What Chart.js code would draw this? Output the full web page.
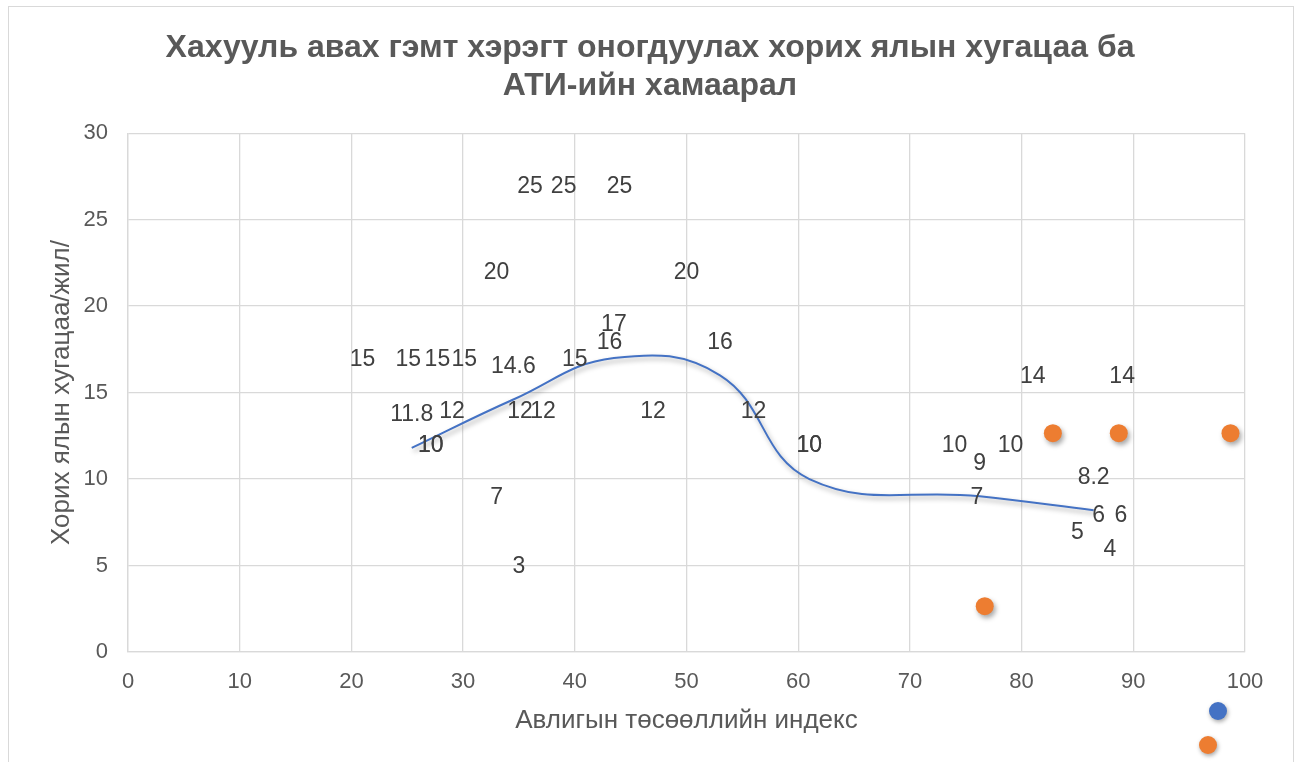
<!DOCTYPE html>
<html>
<head>
<meta charset="utf-8">
<title>Хахууль авах гэмт хэрэг - АТИ</title>
<script src="https://cdn.jsdelivr.net/npm/chart.js@4.4.1/dist/chart.umd.min.js"></script>
<style>
    body { margin: 0; background: #fff; }
    .chart-wrap { position: relative; width: 1300px; height: 762px; overflow: hidden; }
    .chart-frame {
        position: absolute; left: 8px; top: 6px; width: 1284px; height: 800px;
        border: 1px solid #d9d9d9; pointer-events: none;
    }
    .legend-dot {
        position: absolute; width: 18px; height: 18px; border-radius: 50%;
        box-shadow: 1px 2px 4px rgba(0,0,0,0.35);
    }
</style>
</head>
<body>
<div class="chart-wrap">
    <div class="chart-frame"></div>
    <canvas id="chart-ati"></canvas>
    <div class="legend-dot" style="left:1209px; top:702px; background:#4472c4;"></div>
    <div class="legend-dot" style="left:1199px; top:736px; background:#ed7d31;"></div>
</div>
<script>
// Scatter points (markers hidden, only value labels shown)
const cpiPoints = [21, 25.1, 27.7, 30.1, 40, 43.1, 36, 39, 44, 33, 50, 29, 35.1, 37.15, 47, 56, 27.1, 27.1, 61, 33, 35, 74, 79, 81, 89, 76, 86.9, 88.9, 85, 87.9];
const prisonYears = [15, 15, 15, 15, 15, 16, 25, 25, 25, 20, 20, 12, 12, 12, 12, 12, 10, 10, 10, 7, 3, 10, 10, 14, 14, 7, 6, 6, 5, 4];

// Smoothed line series
const lineCpi = [25.4, 34.5, 43.5, 53, 61, 76.25, 86.45];
const lineYears = [11.8, 14.6, 17, 16, 10, 9, 8.2];

// Orange series
const orangeCpi = [76.7, 82.8, 88.7, 98.7];
const orangeYears = [2.65, 12.65, 12.65, 12.65];

const xTicks = [0, 10, 20, 30, 40, 50, 60, 70, 80, 90, 100];
const yTicks = [0, 5, 10, 15, 20, 25, 30];

const FONT = "'Liberation Sans', Arial, sans-serif";
const GRID = '#d9d9d9';
const TEXT = '#595959';

const toPoints = (xs, ys) => xs.map((x, i) => ({ x: x, y: ys[i] }));

// Draws value labels above each point, like Excel's "Above" data labels
const valueLabels = {
    id: 'valueLabels',
    afterDatasetsDraw: (chart) => {
        const ctx = chart.ctx;
        ctx.save();
        ctx.font = '23px ' + FONT;
        ctx.fillStyle = '#404040';
        ctx.textAlign = 'center';
        ctx.textBaseline = 'middle';
        chart.data.datasets.forEach((ds, i) => {
            if (!ds.showValues) return;
            chart.getDatasetMeta(i).data.forEach((el, j) => {
                ctx.fillText(String(ds.data[j].y), el.x, el.y - 33);
            });
        });
        ctx.restore();
    }
};

// Soft shadow under the line and orange markers
const softShadow = {
    id: 'softShadow',
    beforeDatasetDraw: (chart, args) => {
        if (!args.meta._dataset.shadow) return;
        const ctx = chart.ctx;
        ctx.save();
        ctx.shadowColor = 'rgba(0,0,0,0.35)';
        ctx.shadowBlur = 5;
        ctx.shadowOffsetX = 2;
        ctx.shadowOffsetY = 3;
    },
    afterDatasetDraw: (chart, args) => {
        if (!args.meta._dataset.shadow) return;
        chart.ctx.restore();
    }
};

const ctx = document.getElementById('chart-ati').getContext('2d');

new Chart(ctx, {
    type: 'scatter',
    data: {
        datasets: [
            {
                label: 'Хорих ял',
                data: toPoints(cpiPoints, prisonYears),
                pointRadius: 0,
                pointHoverRadius: 0,
                showValues: true
            },
            {
                label: 'Дундаж',
                data: toPoints(lineCpi, lineYears),
                showLine: true,
                tension: 0.42,
                borderColor: '#4472c4',
                borderWidth: 2,
                pointRadius: 0,
                pointHoverRadius: 0,
                showValues: true,
                shadow: true
            },
            {
                label: 'Бусад',
                data: toPoints(orangeCpi, orangeYears),
                pointRadius: 9,
                pointBackgroundColor: '#ed7d31',
                pointBorderColor: '#ed7d31',
                pointBorderWidth: 0,
                shadow: true
            }
        ]
    },
    options: {
        responsive: true,
        maintainAspectRatio: false,
        animation: false,
        layout: { padding: 0 },
        scales: {
            x: {
                type: 'linear',
                min: 0,
                max: 100,
                afterBuildTicks: (scale) => { scale.ticks = xTicks.map(v => ({ value: v })); },
                afterFit: (scale) => { scale.height = 110; },
                ticks: { color: TEXT, font: { size: 22, family: FONT }, padding: 17 },
                grid: { color: GRID, lineWidth: 1.3, drawTicks: false },
                border: { color: GRID, width: 1.3 },
                title: {
                    display: true,
                    text: 'Авлигын төсөөллийн индекс',
                    color: TEXT,
                    font: { size: 26, family: FONT },
                    padding: { top: 0, bottom: 26 }
                }
            },
            y: {
                min: 0,
                max: 30,
                afterBuildTicks: (scale) => { scale.ticks = yTicks.map(v => ({ value: v })); },
                afterFit: (scale) => { scale.width = 128; },
                ticks: { color: TEXT, font: { size: 22, family: FONT }, padding: 20 },
                grid: { color: GRID, lineWidth: 1.3, drawTicks: false },
                border: { color: GRID, width: 1.3 },
                title: {
                    display: true,
                    text: 'Хорих ялын хугацаа/жил/',
                    color: TEXT,
                    font: { size: 26, family: FONT },
                    padding: { top: 46, bottom: 0 }
                }
            },
            // empty right-hand spacer so the title stays centred on the whole frame
            yRight: {
                position: 'right',
                min: 0,
                max: 30,
                afterFit: (scale) => { scale.width = 55; },
                ticks: { display: false },
                grid: { display: false, drawTicks: false },
                border: { display: false }
            }
        },
        plugins: {
            legend: { display: false },
            tooltip: { enabled: false },
            title: {
                display: true,
                text: ['Хахууль авах гэмт хэрэгт оногдуулах хорих ялын хугацаа ба', 'АТИ-ийн хамаарал'],
                color: TEXT,
                font: { size: 32, weight: 'bold', family: FONT, lineHeight: 1.19 },
                padding: { top: 29, bottom: 28 }
            }
        }
    },
    plugins: [valueLabels, softShadow]
});
</script>
</body>
</html>
